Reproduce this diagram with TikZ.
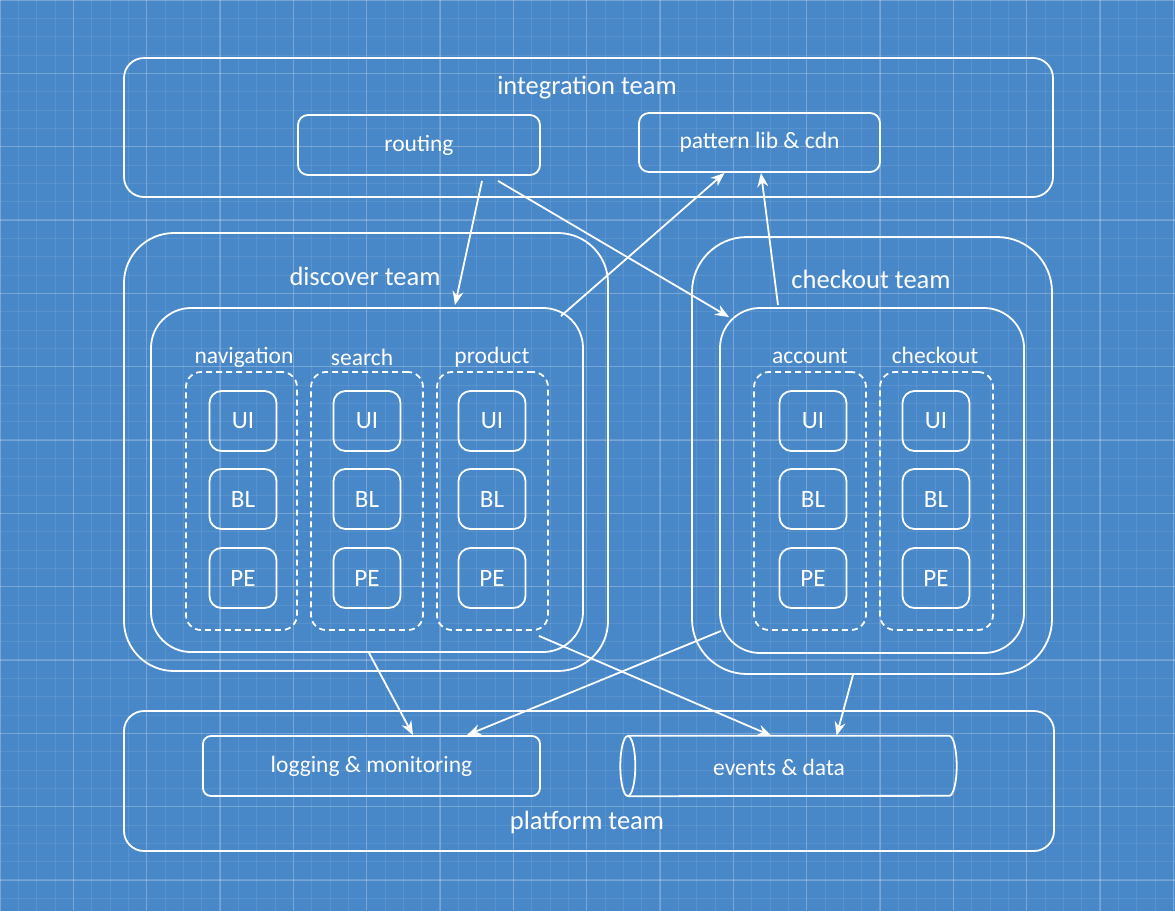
\documentclass[tikz,border=0pt]{standalone}
\usepackage{fontspec}
\setmainfont{Carlito}
\usetikzlibrary{arrows.meta,calc}
\definecolor{bp}{RGB}{72,136,201}
\tikzset{
  every node/.style={text=white},
  box/.style={draw=white, line width=1.8pt, rounded corners=#1, inner sep=0pt},
  box/.default=10pt,
  grp/.style={draw=white, line width=1.8pt, dashed, dash pattern=on 6pt off 4pt, rounded corners=15pt, minimum width=111pt, minimum height=258pt, inner sep=0pt},
  cell/.style={draw=white, line width=1.8pt, rounded corners=12pt, minimum width=67pt, minimum height=60pt, font=\fontsize{25}{27}\selectfont},
  lab/.style={font=\fontsize{23.5}{25}\selectfont, inner sep=0pt},
  team/.style={font=\fontsize{26.5}{28}\selectfont, inner sep=0pt},
  arr/.style={draw=white, line width=1.8pt, -{Stealth[length=14pt,width=11pt]}},
}
\begin{document}
\begin{tikzpicture}[x=1pt,y=-1pt]
\useasboundingbox (0,0) rectangle (1175,911);
\fill[bp] (0,0) rectangle (1175,911);
\foreach \i in {0,...,64} {
  \draw[white, opacity=0.09, line width=0.8pt] ({\i*18.333},0) -- ({\i*18.333},911);
}
\foreach \i in {0,...,50} {
  \draw[white, opacity=0.09, line width=0.8pt] (0,{\i*18.333}) -- (1175,{\i*18.333});
}
\foreach \i in {0,...,16} {
  \draw[white, opacity=0.18, line width=1.2pt] ({\i*73.333},0) -- ({\i*73.333},911);
}
\foreach \i in {0,...,12} {
  \draw[white, opacity=0.18, line width=1.2pt] (0,{\i*73.333}) -- (1175,{\i*73.333});
}

% integration team
\node[box=20pt, minimum width=929pt, minimum height=139pt] (integ) at (588.5,127.5) {};
\node[team] (integlab) at (587,88) {integration team};
\node[box=10pt, minimum width=242pt, minimum height=60pt, lab] (routing) at (419,145) {routing};
\node[box=10pt, minimum width=241pt, minimum height=59pt, lab] (patlib) at (759.5,142.5) {pattern lib \& cdn};

% discover team
\node[box=50pt, minimum width=484pt, minimum height=438pt] (discouter) at (366,452) {};
\node[team] (disclab) at (365,276) {discover team};
\node[box=40pt, minimum width=432pt, minimum height=344pt] (discinner) at (367,480) {};
\node[grp] (gnav) at (241.5,501) {};
\node[grp, minimum width=112pt] (gsearch) at (367,501) {};
\node[grp] (gprod) at (492.5,501) {};
\node[lab] (lnav) at (244,357) {navigation};
\node[lab] (lsearch) at (362,357) {search};
\node[lab] (lprod) at (492,357) {product};
\foreach \n/\x in {nav/243, search/367, prod/492, acc/813, chk/936} {
  \node[cell] (\n ui) at (\x,421) {UI};
  \node[cell] (\n bl) at (\x,499) {BL};
  \node[cell] (\n pe) at (\x,578) {PE};
}

% checkout team
\node[box=55pt, minimum width=360pt, minimum height=437pt] (checkouter) at (872,455.5) {};
\node[team] (checklab) at (871,279) {checkout team};
\node[box=40pt, minimum width=304pt, minimum height=345pt] (checkinner) at (872,480.5) {};
\node[grp, minimum width=112pt] (gacc) at (810,501) {};
\node[grp, minimum width=113pt] (gchk) at (936.5,501) {};
\node[lab] (lacc) at (810,356) {account};
\node[lab] (lchk) at (935,355) {checkout};

% platform team
\node[box=20pt, minimum width=930pt, minimum height=140pt] (platform) at (589,781) {};
\node[team] (platlab) at (587,822) {platform team};
\node[box=8pt, minimum width=337pt, minimum height=60pt, lab] (logging) at (371.5,766) {logging \& monitoring};
\node[minimum width=337pt, minimum height=60pt, inner sep=0pt] (events) at (788.5,766) {};
\node[lab] (eventslab) at (779,767) {events \& data};
\draw[white, line width=1.8pt] ([xshift=8pt]events.north west) -- ([xshift=-8pt]events.north east)
  arc[start angle=90, end angle=-90, x radius=7.5pt, y radius=30pt]
  -- ([xshift=8pt]events.south west);
\draw[white, line width=1.8pt] ([xshift=8pt]events.west) ellipse[x radius=7.5pt, y radius=30pt];

% connectors
\draw[arr] ([xshift=63pt,yshift=-5pt]routing.south) -- ([xshift=88pt,yshift=2pt]discinner.north);
\draw[arr] ([xshift=79pt,yshift=-5pt]routing.south) -- ([xshift=10pt,yshift=-10pt]checkinner.north west);
\draw[arr] ([xshift=-23pt,yshift=-9pt]discinner.north east) -- ([xshift=-35pt]patlib.south);
\draw[arr] ([xshift=-94pt,yshift=2pt]checkinner.north) -- ([xshift=1.5pt]patlib.south);
\draw[arr] ([xshift=2pt]discinner.south) -- ([xshift=41.5pt]logging.north);
\draw[arr] ([xshift=2pt,yshift=23pt]checkinner.south west) -- ([xshift=95.5pt]logging.north);
\draw[arr] ([xshift=-45pt,yshift=17pt]discinner.south east) -- ([xshift=-17pt]events.north);
\draw[arr] ([xshift=-19pt]checkouter.south) -- ([xshift=48pt]events.north);
\end{tikzpicture}
\end{document}
